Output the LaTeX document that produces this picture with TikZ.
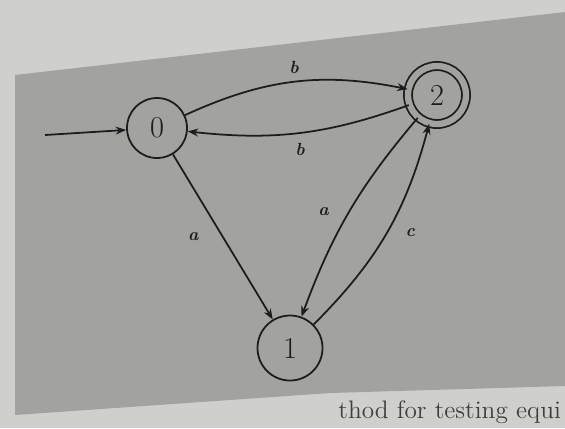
\documentclass[tikz,border=0pt]{standalone}
\definecolor{page}{HTML}{CFCFCD}
\definecolor{plate}{HTML}{A2A2A0}
\definecolor{ink}{HTML}{1C1C1C}
\usetikzlibrary{arrows.meta}

\begin{document}
\begin{tikzpicture}[
  state/.style={draw=ink, circle, line width=1pt, minimum size=1.2cm,
                inner sep=0pt, font=\LARGE, text=ink},
  accept/.style={state, minimum size=1.16cm, double=plate, double distance=3.6pt},
  trans/.style={draw=ink, line width=1pt, -{Stealth[length=6pt, width=4.5pt]}},
  sym/.style={font=\normalsize\bfseries\itshape, text=ink},
]
\useasboundingbox (0,0) rectangle (11.3,-8.56);
\fill[page] (0,0) rectangle (11.3,-8.56);
\fill[plate] (0.3,-1.5) -- (11.3,-0.24) -- (11.3,-7.72) -- (6.6,-7.86) -- (0.3,-8.3) -- cycle;
\node[anchor=base east, font=\Large, text=ink!85, inner sep=1pt] (foot) at (11.26,-8.36) {thod for testing equi};

\node[state] (q0) at (3.14,-2.56) {0};
\node[accept] (q2) at (8.74,-1.9) {2};
\node[state, minimum size=1.3cm] (q1) at (5.8,-6.96) {1};
\coordinate (start) at (0.9,-2.7);

\draw[trans] (start) -- (q0);
\draw[trans] (q0) to[bend left=18] node[sym, above=1pt] {b} (q2);
\draw[trans] (q2) to[bend left=13] node[sym, below=2pt] {b} (q0);
\draw[trans] (q0) -- node[sym, left=10pt] {a} (q1);
\draw[trans] (q2) to[bend right=10] node[sym, left=8pt] {a} (q1);
\draw[trans] (q1) to[bend right=15] node[sym, right=7pt] {c} (q2);
\end{tikzpicture}
\end{document}
